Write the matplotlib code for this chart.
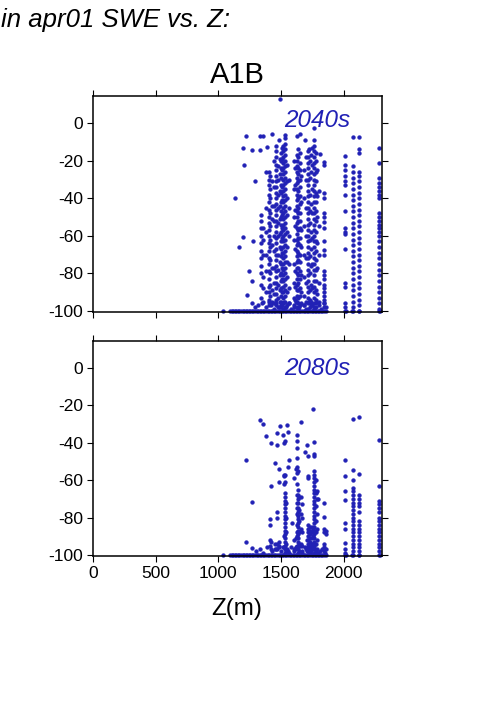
import numpy as np
import matplotlib
matplotlib.use("Agg")
import matplotlib.pyplot as plt

plt.rcParams['font.family'] = ['Liberation Sans', 'DejaVu Sans']
plt.rcParams['axes.unicode_minus'] = False

# ---------------- datos 2040s ----------------
# puntos sueltos (Z, cambio SWE %)
z_sueltos_2040 = [1132, 1164, 1199, 1204, 1199, 1220, 1225, 1246, 1268, 1268, 1292, 1278, 1265,
                  1332, 1353, 1332, 1385, 1430, 1457, 1483, 1491, 1531, 1624, 1651, 1691, 1762,
                  1765, 1725, 1810, 1842, 2010, 2071, 2121, 2121, 2121, 2281, 2281]
d_sueltos_2040 = [-40, -66, -60.5, -22, -13, -7, -91.5, -79, -84, -14.5, -31, -63, -96,
                  -7, -7, -14.5, -12.8, -6, -12, -9, 13, -6.4, -7, -5.5, -9, -2.5,
                  -9, -14, -16.5, -20.6, -17.6, -7.2, -7.2, -14, -16, -13, -21]

# columnas de elevacion
z_cols_2040 = [1340, 1353, 1382, 1401, 1411, 1425, 1440, 1460, 1475, 1490, 1500, 1510, 1518, 1530,
               1545, 1565, 1600, 1615, 1624, 1638, 1651, 1662, 1680, 1700, 1715, 1728, 1738, 1750,
               1762, 1775, 1788, 1800, 1845, 2010, 2071, 2121, 2283]
d_cols_2040 = [
    [-49, -52, -56, -60, -64, -68, -72, -76, -80, -86, -93],
    [-56, -62, -70, -82, -88, -95],
    [-26, -45, -58, -70, -79, -90],
    [-26, -30, -33, -38, -42, -46, -50, -53, -57, -60, -64, -68, -72, -75, -79, -83, -87, -90, -94, -97],
    [-28, -35, -40, -48, -55, -62, -66, -73, -80, -86, -92],
    [-31, -44, -51, -65, -77, -89, -95],
    [-20, -34, -44, -52, -60, -68, -77, -85, -91, -96],
    [-15, -18, -22, -25, -28, -31, -34, -37, -40, -43, -46, -49, -52, -55, -58, -61, -64, -67, -70,
     -73, -76, -79, -82, -85, -88, -91, -94, -97],
    [-23, -30, -38, -45, -53, -60, -70, -78, -86, -93, -98],
    [-19, -27, -36, -44, -51, -59, -66, -74, -81, -89, -95],
    [-16, -20, -24, -29, -33, -37, -42, -47, -50, -54, -58, -63, -67, -71, -75, -80, -84, -88, -92, -95, -98],
    [-13, -19, -25, -34, -41, -49, -56, -61, -69, -77, -83, -90, -97],
    [-12, -15, -18, -21, -24, -27, -30, -33, -36, -39, -42, -45, -48, -51, -54, -57, -60, -63, -66,
     -69, -72, -75, -78, -81, -84, -87, -90, -93, -96, -99],
    [-8, -11, -14, -17, -20, -23, -26, -29, -32, -35, -38, -41, -44, -47, -50, -53, -56, -59, -62,
     -65, -68, -71, -74, -77, -80, -83, -86, -89, -92, -95, -98],
    [-22, -31, -40, -49, -58, -66, -74, -82, -90, -97],
    [-30, -45, -60, -75, -88, -96],
    [-20, -35, -50, -62, -75, -85, -93, -98],
    [-24, -33, -46, -55, -67, -79, -87, -94],
    [-17, -20, -23, -26, -29, -32, -35, -38, -41, -44, -47, -50, -53, -56, -59, -62, -65, -68, -71,
     -74, -77, -80, -83, -86, -89, -92, -95, -98],
    [-14, -18, -24, -27, -31, -36, -40, -45, -48, -52, -57, -61, -64, -69, -73, -77, -81, -85, -89, -93, -96, -99],
    [-16, -21, -25, -30, -34, -39, -43, -48, -52, -56, -61, -65, -70, -74, -79, -83, -88, -92, -97],
    [-28, -42, -57, -66, -81, -90],
    [-25, -40, -55, -70, -82, -92, -97],
    [-18, -30, -45, -60, -72, -85, -95],
    [-15, -18, -21, -24, -27, -30, -33, -36, -39, -42, -45, -48, -51, -54, -57, -60, -63, -66, -69,
     -72, -75, -78, -81, -84, -87, -90, -93, -96, -99],
    [-20, -29, -38, -47, -53, -62, -71, -80, -89, -94, -98],
    [-17, -26, -43, -58, -67, -76, -86, -95],
    [-13, -22, -35, -48, -61, -75, -88, -97],
    [-12, -15, -18, -21, -24, -27, -30, -33, -36, -39, -42, -45, -48, -51, -54, -57, -60, -63, -66,
     -69, -72, -75, -78, -81, -84, -87, -90, -93, -96, -99],
    [-16, -20, -26, -31, -37, -42, -47, -52, -58, -63, -68, -73, -78, -84, -89, -94, -98],
    [-25, -39, -50, -64, -77, -91],
    [-36, -55, -70, -85, -95],
    [-22, -37, -40, -48, -50, -52.5, -56, -63, -67.5, -70, -79, -81, -83, -86, -88, -90, -92, -94, -96, -98],
    [-22, -25, -28, -31, -33, -38, -47, -56, -58, -59, -67, -85, -87, -96, -98],
    [-23, -26, -29, -32, -35, -38, -41, -44, -47, -50, -53, -56, -59, -62, -65, -68, -71, -74, -77,
     -80, -83, -86, -89, -92, -95, -98],
    [-26, -28, -31, -34, -37, -40, -43, -46, -49, -52, -55, -58, -61, -64, -67, -70, -73, -76, -79,
     -82, -85, -88, -91, -94, -97],
    [-29, -32, -34, -36, -38, -40, -48, -50, -52, -54, -56, -58, -60, -63, -66, -69, -72, -75, -78,
     -81, -84, -87, -90, -93, -96, -99],
]

# banda baja cerca de -100
z_bajos_2040 = [1290, 1320, 1350, 1380, 1400, 1420, 1440, 1460, 1480, 1500, 1520, 1540, 1560, 1580,
                1600, 1620, 1640, 1660, 1680, 1700, 1720, 1740, 1760, 1780, 1800, 1820, 1840, 1855]
d_bajos_2040 = [-98, -97, -96, -98, -95, -97, -99, -96, -98, -97, -95, -98, -96, -99,
                -97, -95, -98, -96, -97, -99, -95, -97, -98, -96, -97, -99, -96, -98]

# ---------------- datos 2080s ----------------
z_sueltos_2080 = [1220, 1220, 1268, 1268, 1332, 1358, 1380, 1491, 1514, 1544, 1555, 1563, 1587,
                  1603, 1619, 1656, 1691, 1781, 1792]
d_sueltos_2080 = [-49.4, -93, -71.7, -96.5, -28, -29.8, -36.5, -31, -35.8, -30.4, -34, -49, -83,
                  -59, -54, -29, -45, -66.5, -70]

z_cols_2080 = [1411, 1420, 1451, 1470, 1486, 1525, 1531, 1540, 1555, 1603, 1619, 1624, 1630,
               1635, 1642, 1656, 1664, 1709, 1717, 1730, 1745, 1757, 1765, 1775, 1785,
               1842, 1858, 2010, 2071, 2121, 2283]
d_cols_2080 = [
    [-81, -84, -92, -95],
    [-40, -63, -93, -97],
    [-50.6, -94, -97],
    [-35, -41, -77, -80, -94, -97],
    [-54, -61, -93, -96],
    [-40, -57, -58, -62, -90, -96],
    [-39, -57, -61, -67, -69, -71, -73, -75, -77, -79, -81, -83, -85, -87, -89, -91, -93, -95, -97, -99],
    [-72, -80, -88, -94, -98],
    [-53, -98],
    [-92, -97],
    [-91, -96],
    [-43, -75, -88, -95],
    [-36, -39, -48, -53, -56, -62, -68, -72, -78, -84, -90, -96],
    [-55, -65, -68, -70, -72, -75, -77, -79, -81, -83, -85, -87, -89, -91, -93, -95, -97, -99],
    [-69, -76, -82, -88, -94, -98],
    [-69, -78, -86, -94],
    [-73, -80, -88, -95, -99],
    [-41, -92, -98],
    [-47, -57.5, -59, -84, -86, -88, -90, -92, -94, -96, -98],
    [-85, -87, -89, -91, -93, -95, -97, -99],
    [-85, -88, -91, -94, -97],
    [-22, -86, -90, -95],
    [-39.7, -46, -47, -55, -57, -59, -61, -63, -65, -67, -69, -71, -73, -75, -77, -79, -81, -83,
     -85, -87, -89, -91, -93, -95, -97, -99],
    [-60, -67, -74, -82, -88, -94, -98],
    [-66, -70, -78, -86, -92, -97],
    [-72, -79.5, -86, -88, -94, -96, -98],
    [-87, -89, -97],
    [-49, -58, -66, -70.4, -83, -86, -93.5, -97, -99],
    [-27.3, -54.5, -60, -64, -66, -68, -70, -72, -74, -76, -78, -80, -82, -84, -86, -88, -90, -92,
     -94, -96, -98],
    [-26, -56.5, -68, -70, -72, -74, -77, -82, -84, -86, -88, -90, -92, -94, -96, -98],
    [-38.5, -63, -71, -73, -75, -77, -80, -82, -84, -86, -88, -90, -92, -94, -96, -98],
]

z_bajos_2080 = [1300, 1330, 1360, 1390, 1430, 1460, 1480, 1500, 1515, 1545, 1560, 1580, 1600,
                1615, 1650, 1670, 1690, 1700, 1725, 1740, 1755, 1770, 1795, 1810, 1830, 1850]
d_bajos_2080 = [-98, -97, -99, -96, -98, -97, -95, -98, -96, -97, -99, -96, -98,
                -97, -95, -98, -96, -97, -95, -98, -96, -97, -99, -98, -97, -99]

# fila en -100 (misma para ambos periodos)
z_piso = [1034, 1092, 1105, 1118, 1130, 1142, 1155, 1168, 1180, 1193, 1205, 1218, 1230, 1243,
          1255, 1268, 1280, 1293, 1305, 1318, 1330, 1343, 1355, 1368, 1380, 1393, 1405, 1418,
          1430, 1443, 1455, 1468, 1480, 1493, 1505, 1518, 1530, 1543, 1555, 1568, 1580, 1593,
          1605, 1618, 1630, 1643, 1655, 1668, 1680, 1693, 1705, 1718, 1730, 1743, 1755, 1768,
          1780, 1793, 1805, 1818, 1830, 1843, 1855, 2008, 2015, 2068, 2075, 2118, 2125, 2280, 2288]

periodos = ["2040s", "2080s"]
color_pts = "#2121b5"


def juntar(z_sueltos, d_sueltos, z_cols, d_cols, z_bajos, d_bajos):
    zz = list(z_sueltos) + list(z_bajos) + list(z_piso)
    dd = list(d_sueltos) + list(d_bajos) + [-100] * len(z_piso)
    for z, ys in zip(z_cols, d_cols):
        zz += [z] * len(ys)
        dd += ys
    return np.array(zz), np.array(dd)


datos = [
    juntar(z_sueltos_2040, d_sueltos_2040, z_cols_2040, d_cols_2040, z_bajos_2040, d_bajos_2040),
    juntar(z_sueltos_2080, d_sueltos_2080, z_cols_2080, d_cols_2080, z_bajos_2080, d_bajos_2080),
]

fig = plt.figure(figsize=(5.01, 7.09), dpi=100)
pos = [[0.1856, 0.5599, 0.5768, 0.3047], [0.1856, 0.2158, 0.5768, 0.3032]]
etiqueta_y = [0.858, 0.842]

for i, (zz, dd) in enumerate(datos):
    ax = fig.add_axes(pos[i])
    ax.scatter(zz, dd, s=7.5, c=color_pts, edgecolors=color_pts, linewidths=0.3, clip_on=False)
    ax.set_xlim(0, 2305)
    ax.set_ylim(-100.6, 14.5)
    ax.set_xticks([0, 500, 1000, 1500, 2000])
    ax.set_yticks([-100, -80, -60, -40, -20, 0])
    ax.tick_params(direction='out', length=4, width=0.8, top=True, right=True,
                   labelsize=12.5, pad=3)
    if i == 0:
        ax.tick_params(labelbottom=False)
    for sp in ax.spines.values():
        sp.set_linewidth(1.1)
    ax.text(0.889, etiqueta_y[i], periodos[i], transform=ax.transAxes, ha='right',
            va='baseline', color=color_pts, fontsize=17.5, style='italic')

fig.text(0.002, 1 - 27 / 709, "in apr01 SWE vs. Z:", fontsize=18.5, style='italic', va='baseline')
fig.text(237 / 501, 1 - 83 / 709, "A1B", fontsize=21, ha='center', va='baseline')
fig.text(237 / 501, 1 - 615 / 709, "Z(m)", fontsize=17.5, ha='center', va='baseline')

fig.savefig("out.png", dpi=100)
